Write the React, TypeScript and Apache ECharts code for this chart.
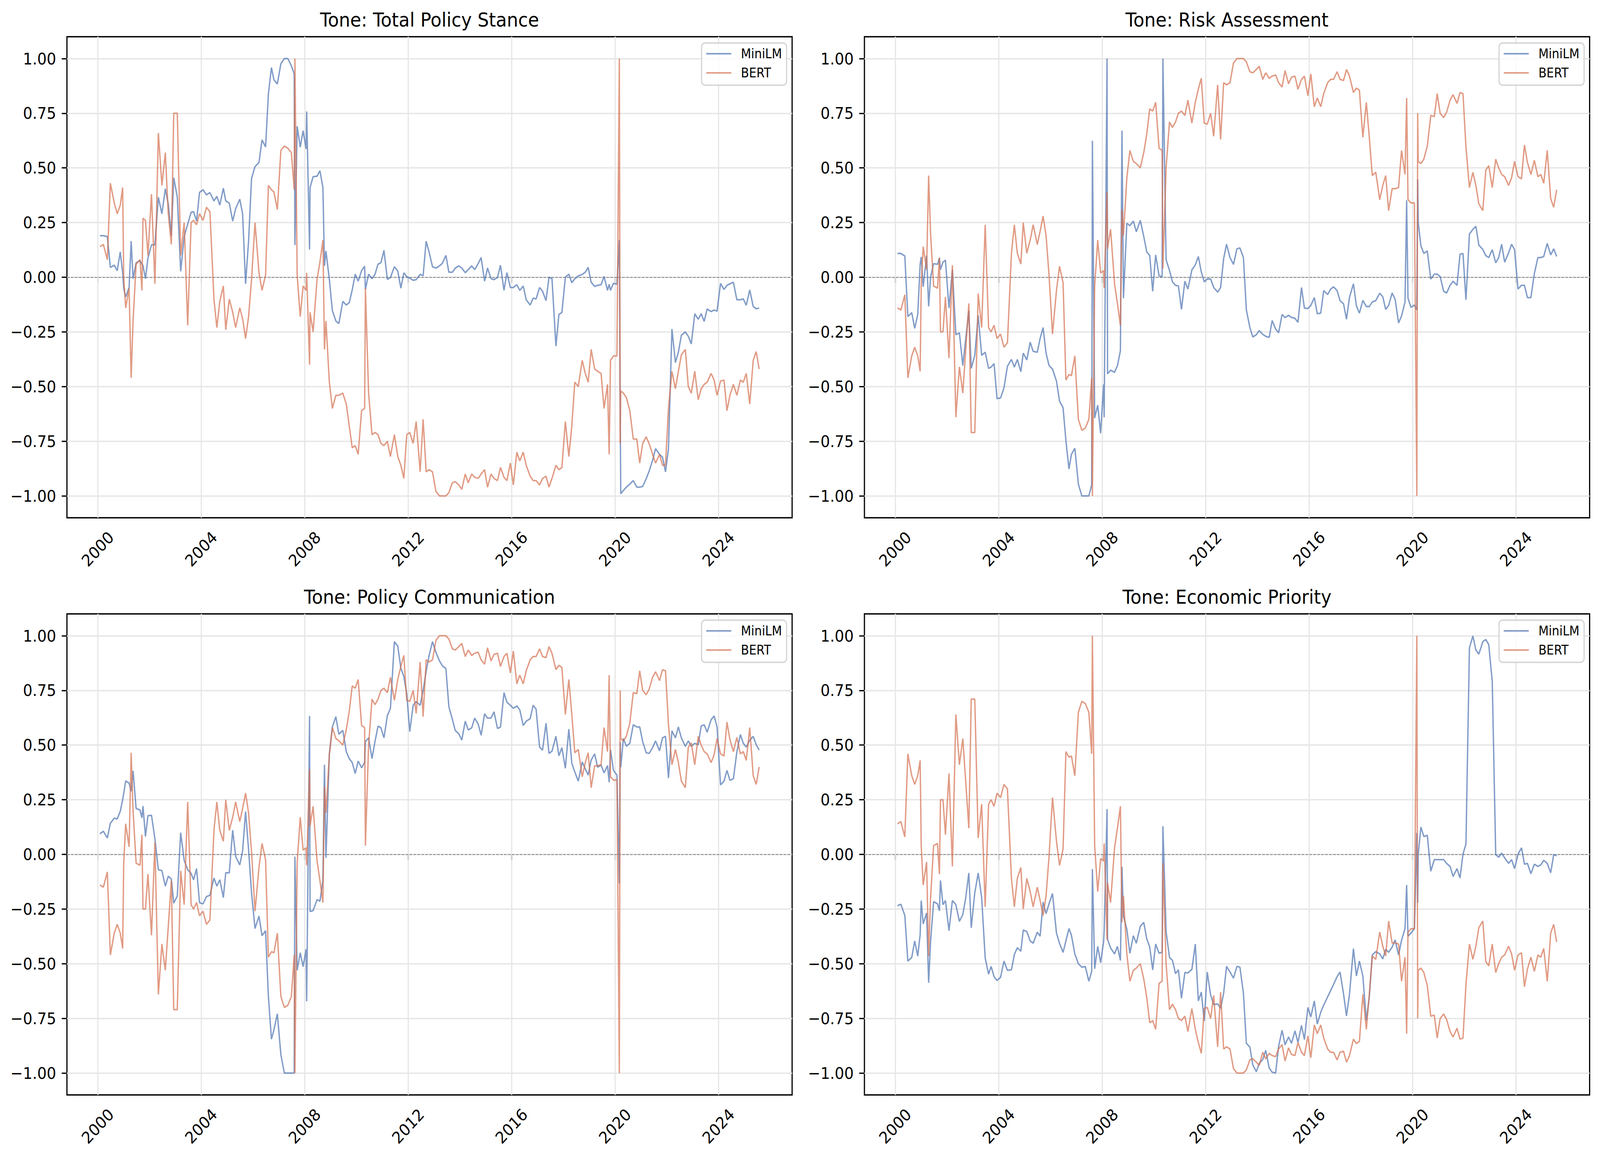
import React, { useEffect, useRef } from "react";
import * as echarts from "echarts";

// FOMC statement dates (x positions of every point)
const meetingDates = [
  "2000-02-02","2000-03-21","2000-05-16","2000-06-28","2000-08-22","2000-10-03","2000-11-15","2000-12-19",
  "2001-01-03","2001-01-31","2001-03-20","2001-04-18","2001-05-15","2001-06-27","2001-08-21","2001-09-17","2001-10-02","2001-11-06","2001-12-11",
  "2002-01-30","2002-03-19","2002-05-07","2002-06-26","2002-08-13","2002-09-24","2002-11-06","2002-12-10",
  "2003-01-29","2003-03-18","2003-05-06","2003-06-25","2003-08-12","2003-09-16","2003-10-28","2003-12-09",
  "2004-01-28","2004-03-16","2004-05-04","2004-06-30","2004-08-10","2004-09-21","2004-11-10","2004-12-14",
  "2005-02-02","2005-03-22","2005-05-03","2005-06-30","2005-08-09","2005-09-20","2005-11-01","2005-12-13",
  "2006-01-31","2006-03-28","2006-05-10","2006-06-29","2006-08-08","2006-09-20","2006-10-25","2006-12-12",
  "2007-01-31","2007-03-21","2007-05-09","2007-06-28","2007-08-07","2007-08-17","2007-09-18","2007-10-31","2007-12-11",
  "2008-01-22","2008-01-30","2008-03-11","2008-03-18","2008-04-30","2008-06-25","2008-08-05","2008-09-16","2008-10-08","2008-10-29","2008-12-16",
  "2009-01-28","2009-03-18","2009-04-29","2009-06-24","2009-08-12","2009-09-23","2009-11-04","2009-12-16",
  "2010-01-27","2010-03-16","2010-04-28","2010-05-09","2010-06-23","2010-08-10","2010-09-21","2010-11-03","2010-12-14",
  "2011-01-26","2011-03-15","2011-04-27","2011-06-22","2011-08-09","2011-09-21","2011-11-02","2011-12-13",
  "2012-01-25","2012-03-13","2012-04-25","2012-06-20","2012-08-01","2012-09-13","2012-10-24","2012-12-12",
  "2013-01-30","2013-03-20","2013-05-01","2013-06-19","2013-07-31","2013-09-18","2013-10-30","2013-12-18",
  "2014-01-29","2014-03-19","2014-04-30","2014-06-18","2014-07-30","2014-09-17","2014-10-29","2014-12-17",
  "2015-01-28","2015-03-18","2015-04-29","2015-06-17","2015-07-29","2015-09-17","2015-10-28","2015-12-16",
  "2016-01-27","2016-03-16","2016-04-27","2016-06-15","2016-07-27","2016-09-21","2016-11-02","2016-12-14",
  "2017-02-01","2017-03-15","2017-05-03","2017-06-14","2017-07-26","2017-09-20","2017-11-01","2017-12-13",
  "2018-01-31","2018-03-21","2018-05-02","2018-06-13","2018-08-01","2018-09-26","2018-11-08","2018-12-19",
  "2019-01-30","2019-03-20","2019-05-01","2019-06-19","2019-07-31","2019-09-18","2019-10-11","2019-10-30","2019-12-11",
  "2020-01-29","2020-03-03","2020-03-15","2020-03-23","2020-04-29","2020-06-10","2020-07-29","2020-09-16","2020-11-05","2020-12-16",
  "2021-01-27","2021-03-17","2021-04-28","2021-06-16","2021-07-28","2021-09-22","2021-11-03","2021-12-15",
  "2022-01-26","2022-03-16","2022-05-04","2022-06-15","2022-07-27","2022-09-21","2022-11-02","2022-12-14",
  "2023-02-01","2023-03-22","2023-05-03","2023-06-14","2023-07-26","2023-09-20","2023-11-01","2023-12-13",
  "2024-01-31","2024-03-20","2024-05-01","2024-06-12","2024-07-31","2024-09-18","2024-11-07","2024-12-18",
  "2025-01-29","2025-03-19","2025-05-07","2025-06-18","2025-07-30",
];

const totalMiniLM = [
  0.19, 0.19, 0.186, 0.045, 0.055, 0.03, 0.116, 0.02,
  -0.05, -0.09, -0.047, 0.165, -0.007, 0.066, 0.076, 0.06, 0.054, -0.007, 0.088,
  0.148, 0.148, 0.366, 0.29, 0.405, 0.335, 0.19, 0.455,
  0.367, 0.027, 0.186, 0.243, 0.297, 0.3, 0.257, 0.388,
  0.4, 0.377, 0.387, 0.349, 0.37, 0.33, 0.407, 0.349,
  0.339, 0.257, 0.314, 0.357, 0.29, -0.03, 0.165, 0.452,
  0.506, 0.525, 0.628, 0.596, 0.839, 0.959, 0.903, 0.884,
  0.977, 1.0, 1.0, 0.967, 0.93, 0.147, 0.69, 0.595, 0.67,
  0.587, 0.758, 0.127, 0.41, 0.46, 0.462, 0.487, 0.41, 0.052, 0.12, -0.01,
  -0.153, -0.2, -0.212, -0.11, -0.127, -0.116, -0.058, 0.014,
  -0.018, 0.03, 0.05, -0.056, 0.014, -0.007, 0.013, 0.06, 0.066,
  0.123, -0.01, -0.001, 0.048, 0.028, -0.05, 0.02, 0.003,
  -0.004, -0.014, -0.011, 0.013, 0.007, 0.165, 0.116, 0.048,
  0.042, 0.052, 0.064, 0.1, 0.023, 0.023, 0.042, 0.052,
  0.042, 0.021, 0.035, 0.052, 0.035, 0.062, 0.09, -0.018,
  0.042, -0.006, -0.011, -0.001, 0.055, -0.06, 0.021, -0.047,
  -0.047, -0.034, -0.06, -0.04, -0.103, -0.127, -0.096, -0.099,
  -0.047, -0.064, -0.107, 0.0, -0.006, -0.315, -0.17, -0.161,
  0.0, 0.014, -0.025, -0.007, 0.006, 0.013, 0.023, 0.045,
  -0.023, -0.042, -0.037, -0.034, 0.003, -0.06, -0.032, -0.06, -0.028,
  -0.032, 0.17, -0.62, -0.99, -0.975, -0.96, -0.946, -0.93, -0.96, -0.96,
  -0.957, -0.922, -0.887, -0.837, -0.784, -0.81, -0.823, -0.89,
  -0.784, -0.237, -0.39, -0.343, -0.265, -0.25, -0.27, -0.305,
  -0.167, -0.192, -0.167, -0.202, -0.145, -0.157, -0.15, -0.155,
  -0.028, -0.056, -0.037, -0.03, -0.023, -0.103, -0.103, -0.099,
  -0.128, -0.058, -0.134, -0.144, -0.141,
];

const totalBERT = [
  0.14, 0.15, 0.08, 0.43, 0.34, 0.29, 0.33, 0.41,
  0.0, -0.14, -0.05, -0.46, -0.2, 0.06, 0.08, -0.06, 0.27, 0.26, 0.1,
  0.38, -0.03, 0.66, 0.42, 0.57, 0.29, 0.15, 0.75,
  0.75, 0.1, 0.25, -0.22, 0.25, 0.26, 0.24, 0.29,
  0.26, 0.32, 0.3, -0.1, -0.23, -0.11, -0.04, -0.24,
  -0.1, -0.16, -0.23, -0.14, -0.19, -0.28, -0.18, -0.01,
  0.25, 0.02, -0.06, 0.01, 0.42, 0.4, 0.39, 0.31,
  0.58, 0.6, 0.59, 0.57, 0.4, 1.0, 0.01, -0.18, -0.04,
  -0.06, 0.02, -0.4, -0.16, -0.25, -0.01, 0.07, 0.17, -0.33, -0.2, -0.48,
  -0.6, -0.54, -0.54, -0.53, -0.58, -0.68, -0.78, -0.77,
  -0.81, -0.61, -0.6, -0.05, -0.53, -0.72, -0.71, -0.72, -0.76,
  -0.77, -0.75, -0.82, -0.72, -0.82, -0.86, -0.92, -0.72,
  -0.71, -0.76, -0.66, -0.89, -0.65, -0.89, -0.88, -0.89,
  -0.98, -1.0, -1.0, -1.0, -0.985, -0.94, -0.935, -0.95,
  -0.97, -0.9, -0.94, -0.9, -0.915, -0.92, -0.9, -0.88,
  -0.96, -0.9, -0.92, -0.93, -0.87, -0.915, -0.93, -0.85,
  -0.95, -0.8, -0.84, -0.8, -0.86, -0.91, -0.93, -0.93,
  -0.95, -0.92, -0.91, -0.96, -0.92, -0.86, -0.88, -0.87,
  -0.66, -0.82, -0.68, -0.48, -0.5, -0.38, -0.44, -0.48,
  -0.33, -0.42, -0.43, -0.44, -0.6, -0.49, -0.81, -0.38, -0.36,
  -0.36, 1.0, -0.76, -0.52, -0.53, -0.55, -0.61, -0.74, -0.74, -0.85,
  -0.76, -0.73, -0.76, -0.81, -0.85, -0.81, -0.86, -0.86,
  -0.6, -0.43, -0.51, -0.43, -0.355, -0.33, -0.5, -0.53,
  -0.43, -0.56, -0.51, -0.49, -0.48, -0.44, -0.47, -0.54,
  -0.475, -0.47, -0.61, -0.54, -0.49, -0.54, -0.47, -0.48,
  -0.44, -0.58, -0.38, -0.34, -0.42,
];

const riskMiniLM = [
  0.109, 0.109, 0.097, -0.18, -0.162, -0.234, -0.17, 0.06,
  0.093, -0.044, 0.099, -0.133, 0.0, 0.062, 0.059, 0.088, 0.035, 0.069, 0.078,
  -0.141, 0.035, -0.263, -0.254, -0.404, -0.28, -0.153, -0.417,
  -0.357, -0.174, -0.357, -0.343, -0.417, -0.411, -0.395, -0.555,
  -0.552, -0.506, -0.407, -0.376, -0.411, -0.376, -0.432, -0.347,
  -0.378, -0.297, -0.339, -0.343, -0.28, -0.23, -0.347, -0.404,
  -0.42, -0.475, -0.566, -0.597, -0.746, -0.877, -0.81, -0.782,
  -0.946, -1.0, -1.0, -1.0, -0.95, 0.624, -0.644, -0.585, -0.713,
  -0.49, -0.64, 1.0, -0.442, -0.425, -0.435, -0.404, -0.336, 0.67, -0.096, 0.247,
  0.236, 0.257, 0.208, 0.26, 0.186, 0.116, 0.099, -0.064,
  0.102, 0.006, 0.003, 1.0, 0.08, 0.031, -0.021, -0.037, -0.04,
  -0.147, -0.018, -0.054, 0.034, 0.056, 0.095, 0.024, -0.021,
  -0.008, -0.008, -0.047, -0.068, -0.047, 0.085, 0.151, 0.09,
  0.059, 0.13, 0.134, 0.09, -0.15, -0.23, -0.273, -0.263,
  -0.244, -0.261, -0.27, -0.275, -0.198, -0.237, -0.254, -0.17,
  -0.185, -0.174, -0.184, -0.188, -0.206, -0.047, -0.141, -0.143,
  -0.129, -0.093, -0.167, -0.164, -0.061, -0.079, -0.054, -0.044,
  -0.061, -0.107, -0.121, -0.192, -0.092, -0.03, -0.131, -0.164,
  -0.106, -0.134, -0.134, -0.113, -0.107, -0.073, -0.089, -0.147,
  -0.129, -0.072, -0.1, -0.209, -0.177, -0.113, 0.352, -0.096, -0.138,
  -0.127, -0.15, 0.448, 0.25, 0.144, 0.109, 0.12, -0.008, 0.014, 0.014,
  0.003, -0.064, -0.072, -0.037, -0.018, -0.037, 0.105, 0.109,
  -0.103, 0.198, 0.219, 0.233, 0.147, 0.127, 0.099, 0.09,
  0.126, 0.066, 0.09, 0.151, 0.069, 0.112, 0.151, 0.126,
  -0.054, -0.037, -0.037, -0.093, -0.093, 0.017, 0.09, 0.09,
  0.095, 0.155, 0.102, 0.13, 0.095,
];

// BERT scores for Risk Assessment and Policy Communication (identical in the source)
const riskCommBERT = [
  -0.14, -0.15, -0.08, -0.46, -0.36, -0.32, -0.36, -0.43,
  -0.04, 0.14, 0.035, 0.465, 0.2, -0.04, -0.05, 0.09, -0.25, -0.25, -0.09,
  -0.37, 0.055, -0.64, -0.41, -0.53, -0.33, -0.12, -0.71,
  -0.71, -0.075, -0.23, 0.24, -0.23, -0.25, -0.22, -0.28,
  -0.26, -0.32, -0.3, 0.11, 0.24, 0.11, 0.06, 0.25,
  0.11, 0.17, 0.24, 0.15, 0.21, 0.28, 0.19, 0.01,
  -0.26, -0.06, 0.05, -0.025, -0.47, -0.445, -0.45, -0.36,
  -0.65, -0.7, -0.69, -0.65, -0.46, -1.0, -0.04, 0.17, 0.02,
  0.03, -0.05, 0.39, 0.13, 0.22, -0.03, -0.12, -0.22, 0.31, 0.19, 0.455,
  0.58, 0.53, 0.52, 0.5, 0.57, 0.655, 0.77, 0.76,
  0.8, 0.59, 0.58, 0.04, 0.5, 0.71, 0.685, 0.71, 0.75,
  0.76, 0.74, 0.81, 0.705, 0.8, 0.86, 0.91, 0.705,
  0.7, 0.75, 0.645, 0.88, 0.63, 0.89, 0.88, 0.89,
  0.98, 1.0, 1.0, 1.0, 0.985, 0.94, 0.935, 0.95,
  0.965, 0.905, 0.935, 0.91, 0.92, 0.925, 0.89, 0.87,
  0.945, 0.885, 0.915, 0.92, 0.86, 0.905, 0.92, 0.83,
  0.93, 0.78, 0.82, 0.78, 0.84, 0.89, 0.905, 0.905,
  0.94, 0.905, 0.9, 0.95, 0.92, 0.845, 0.865, 0.855,
  0.64, 0.8, 0.64, 0.465, 0.48, 0.355, 0.42, 0.465,
  0.305, 0.405, 0.405, 0.41, 0.58, 0.47, 0.82, 0.355, 0.34,
  0.34, -1.0, 0.75, 0.53, 0.52, 0.54, 0.6, 0.74, 0.735, 0.84,
  0.75, 0.73, 0.755, 0.81, 0.835, 0.795, 0.845, 0.84,
  0.595, 0.41, 0.48, 0.42, 0.335, 0.305, 0.49, 0.51,
  0.41, 0.54, 0.5, 0.47, 0.46, 0.42, 0.455, 0.53,
  0.46, 0.45, 0.605, 0.525, 0.47, 0.535, 0.46, 0.47,
  0.43, 0.58, 0.36, 0.32, 0.4,
];

const commMiniLM = [
  0.094, 0.106, 0.075, 0.142, 0.166, 0.162, 0.197, 0.25,
  0.278, 0.336, 0.326, 0.288, 0.382, 0.21, 0.203, 0.167, 0.221, 0.082, 0.177,
  0.179, 0.072, -0.07, -0.074, -0.145, -0.1, -0.112, -0.223,
  -0.19, 0.099, -0.027, -0.07, -0.087, -0.116, -0.065, -0.221,
  -0.226, -0.193, -0.187, -0.108, -0.145, -0.116, -0.197, -0.084,
  -0.084, 0.111, -0.009, -0.048, 0.016, 0.196, 0.023, -0.176,
  -0.339, -0.282, -0.372, -0.349, -0.651, -0.845, -0.803, -0.729,
  -0.916, -1.0, -1.0, -1.0, -1.0, -0.01, -0.53, -0.45, -0.513,
  -0.434, -0.672, 0.633, -0.261, -0.257, -0.207, -0.214, -0.119, 0.41, -0.016, 0.46,
  0.583, 0.63, 0.55, 0.567, 0.47, 0.438, 0.42, 0.37,
  0.427, 0.396, 0.42, 0.516, 0.533, 0.438, 0.516, 0.587, 0.579,
  0.533, 0.635, 0.668, 0.973, 0.952, 0.852, 0.814, 0.735,
  0.562, 0.682, 0.699, 0.682, 0.749, 0.837, 0.909, 0.973,
  0.923, 0.885, 0.862, 0.85, 0.675, 0.618, 0.566, 0.552,
  0.523, 0.609, 0.569, 0.579, 0.623, 0.597, 0.545, 0.643,
  0.623, 0.624, 0.652, 0.576, 0.582, 0.74, 0.696, 0.682,
  0.668, 0.679, 0.661, 0.59, 0.609, 0.621, 0.682, 0.664,
  0.491, 0.477, 0.6, 0.462, 0.472, 0.54, 0.451, 0.488,
  0.394, 0.573, 0.417, 0.377, 0.335, 0.423, 0.391, 0.363,
  0.431, 0.46, 0.399, 0.409, 0.373, 0.406, 0.33, 0.479, 0.384,
  0.363, -0.133, 0.512, 0.399, 0.53, 0.495, 0.508, 0.593, 0.583, 0.583,
  0.516, 0.465, 0.462, 0.488, 0.519, 0.474, 0.533, 0.54,
  0.349, 0.565, 0.533, 0.583, 0.533, 0.494, 0.519, 0.495,
  0.508, 0.502, 0.587, 0.593, 0.559, 0.616, 0.633, 0.583,
  0.318, 0.335, 0.384, 0.339, 0.346, 0.469, 0.548, 0.508,
  0.491, 0.522, 0.54, 0.502, 0.477,
];

const econMiniLM = [
  -0.235, -0.228, -0.279, -0.488, -0.471, -0.396, -0.465, -0.367,
  -0.211, -0.318, -0.268, -0.587, -0.4, -0.216, -0.226, -0.258, -0.119, -0.23, -0.211,
  -0.349, -0.211, -0.23, -0.306, -0.275, -0.197, -0.085, -0.336,
  -0.176, -0.085, -0.197, -0.474, -0.548, -0.512, -0.559, -0.577,
  -0.562, -0.488, -0.53, -0.528, -0.458, -0.427, -0.443, -0.346,
  -0.353, -0.396, -0.406, -0.356, -0.374, -0.218, -0.271, -0.226,
  -0.179, -0.36, -0.407, -0.448, -0.396, -0.339, -0.37, -0.455,
  -0.5, -0.516, -0.513, -0.58, -0.535, -0.067, -0.523, -0.421, -0.495,
  -0.4, -0.35, 0.207, -0.389, -0.428, -0.455, -0.421, -0.485, -0.057, -0.282, -0.342,
  -0.452, -0.372, -0.406, -0.329, -0.311, -0.386, -0.424, -0.528,
  -0.41, -0.452, -0.448, 0.129, -0.353, -0.471, -0.485, -0.545, -0.528,
  -0.658, -0.54, -0.542, -0.526, -0.41, -0.67, -0.63, -0.762,
  -0.538, -0.644, -0.687, -0.684, -0.704, -0.635, -0.512, -0.538,
  -0.566, -0.512, -0.516, -0.633, -0.864, -0.881, -0.963, -0.994,
  -0.956, -0.938, -0.896, -0.977, -0.996, -1.0, -0.878, -0.804,
  -0.871, -0.835, -0.864, -0.807, -0.86, -0.782, -0.847, -0.7,
  -0.743, -0.67, -0.776, -0.722, -0.689, -0.651, -0.623, -0.594,
  -0.559, -0.538, -0.637, -0.739, -0.64, -0.431, -0.556, -0.488,
  -0.556, -0.76, -0.651, -0.46, -0.445, -0.455, -0.478, -0.434,
  -0.448, -0.424, -0.391, -0.46, -0.393, -0.339, -0.14, -0.374, -0.36,
  -0.339, 0.098, -0.221, 0.0, 0.125, 0.082, 0.087, -0.077, -0.024, -0.024,
  -0.024, -0.024, -0.041, -0.055, -0.101, -0.065, -0.108, 0.001,
  0.048, 0.945, 0.999, 0.935, 0.916, 0.973, 0.983, 0.959,
  0.791, -0.001, -0.013, 0.006, -0.016, -0.041, -0.024, -0.065,
  0.001, 0.03, -0.045, -0.041, -0.088, -0.045, -0.055, -0.048,
  -0.027, -0.041, -0.084, -0.001, -0.006,
];

const econBERT = [
  0.14, 0.15, 0.08, 0.46, 0.36, 0.32, 0.36, 0.43,
  0.04, -0.14, -0.035, -0.465, -0.2, 0.04, 0.05, -0.09, 0.25, 0.25, 0.09,
  0.37, -0.055, 0.64, 0.41, 0.53, 0.33, 0.12, 0.71,
  0.71, 0.075, 0.23, -0.24, 0.23, 0.25, 0.22, 0.28,
  0.26, 0.32, 0.3, -0.11, -0.24, -0.11, -0.06, -0.25,
  -0.11, -0.17, -0.24, -0.15, -0.21, -0.28, -0.19, -0.01,
  0.26, 0.06, -0.05, 0.025, 0.47, 0.445, 0.45, 0.36,
  0.65, 0.7, 0.69, 0.65, 0.46, 1.0, 0.04, -0.17, -0.02,
  -0.03, 0.05, -0.39, -0.13, -0.22, 0.03, 0.12, 0.22, -0.31, -0.19, -0.455,
  -0.58, -0.53, -0.52, -0.5, -0.57, -0.655, -0.77, -0.76,
  -0.8, -0.59, -0.58, -0.04, -0.5, -0.71, -0.685, -0.71, -0.75,
  -0.76, -0.74, -0.81, -0.705, -0.8, -0.86, -0.91, -0.705,
  -0.7, -0.75, -0.645, -0.88, -0.63, -0.89, -0.88, -0.89,
  -0.98, -1.0, -1.0, -1.0, -0.985, -0.94, -0.935, -0.95,
  -0.965, -0.905, -0.935, -0.91, -0.92, -0.925, -0.89, -0.87,
  -0.945, -0.885, -0.915, -0.92, -0.86, -0.905, -0.92, -0.83,
  -0.93, -0.78, -0.82, -0.78, -0.84, -0.89, -0.905, -0.905,
  -0.94, -0.905, -0.9, -0.95, -0.92, -0.845, -0.865, -0.855,
  -0.64, -0.8, -0.64, -0.465, -0.48, -0.355, -0.42, -0.465,
  -0.305, -0.405, -0.405, -0.41, -0.58, -0.47, -0.82, -0.355, -0.34,
  -0.34, 1.0, -0.75, -0.53, -0.52, -0.54, -0.6, -0.74, -0.735, -0.84,
  -0.75, -0.73, -0.755, -0.81, -0.835, -0.795, -0.845, -0.84,
  -0.595, -0.41, -0.48, -0.42, -0.335, -0.305, -0.49, -0.51,
  -0.41, -0.54, -0.5, -0.47, -0.46, -0.42, -0.455, -0.53,
  -0.46, -0.45, -0.605, -0.525, -0.47, -0.535, -0.46, -0.47,
  -0.43, -0.58, -0.36, -0.32, -0.4,
];

const panelTitles = [
  "Tone: Total Policy Stance",
  "Tone: Risk Assessment",
  "Tone: Policy Communication",
  "Tone: Economic Priority",
];
const seriesNames = ["MiniLM", "BERT"];
const xTickYears = [2000, 2004, 2008, 2012, 2016, 2020, 2024];
const yTickValues = [-1, -0.75, -0.5, -0.25, 0, 0.25, 0.5, 0.75, 1];

const W = 4470;
const H = 2966;
const FONT = "'DejaVu Sans', Verdana, sans-serif";
const BLUE = "rgba(76,114,176,0.7)";
const ORANGE = "rgba(212,112,80,0.7)";
const GRID_W = 2026;
const GRID_H = 1231;
const PANEL_POS = [
  { left: 187, top: 94 },
  { left: 2415, top: 94 },
  { left: 187, top: 1571 },
  { left: 2415, top: 1571 },
];

function toYearFraction(s: string): number {
  const [y, m, d] = s.split("-").map(Number);
  const t = Date.UTC(y, m - 1, d);
  const a = Date.UTC(y, 0, 1);
  const b = Date.UTC(y + 1, 0, 1);
  return y + (t - a) / (b - a);
}

function fmtY(v: number): string {
  const s = Math.abs(v).toFixed(2);
  return v < -1e-9 ? "\u2212" + s : s;
}

// The design is laid out on a 4470x2966 canvas; stretch it to fill the viewport.
function viewportScale(): { sx: number; sy: number; vw: number; vh: number } {
  if (typeof window === "undefined") return { sx: 1, sy: 1, vw: W, vh: H };
  const vw = window.innerWidth || document.documentElement.clientWidth || W;
  const vh = window.innerHeight || document.documentElement.clientHeight || H;
  const sx = vw > 0 ? Math.min(vw / W, 1) : 1;
  const sy = vh > 0 ? Math.min(vh / H, 1) : 1;
  return { sx, sy, vw: W * sx, vh: H * sy };
}

export default function App() {
  const ref = useRef<HTMLDivElement | null>(null);
  const { sx, sy, vw, vh } = viewportScale();

  useEffect(() => {
    document.body.style.margin = "0";
    document.body.style.overflow = "hidden";
    if (!ref.current) return;
    const chart = echarts.init(ref.current, undefined, { renderer: "svg", width: W, height: H });

    const xs = meetingDates.map(toYearFraction);
    const panelData = [
      [totalMiniLM, totalBERT],
      [riskMiniLM, riskCommBERT],
      [commMiniLM, riskCommBERT],
      [econMiniLM, econBERT],
    ];

    const tickLine = { color: "#000", width: 3.3 };
    const grids: any[] = [];
    const xAxes: any[] = [];
    const yAxes: any[] = [];
    const series: any[] = [];
    const legends: any[] = [];
    const graphics: any[] = [];

    PANEL_POS.forEach((p, i) => {
      grids.push({
        left: p.left,
        top: p.top,
        width: GRID_W,
        height: GRID_H,
        show: true,
        borderColor: "#000",
        borderWidth: 3.3,
        backgroundColor: "rgba(0,0,0,0)",
        containLabel: false,
      });
      xAxes.push({
        type: "value",
        gridIndex: i,
        min: 1998.81,
        max: 2026.85,
        axisLine: { show: false },
        axisTick: { show: true, length: 14.6, lineStyle: tickLine, customValues: xTickYears },
        axisLabel: {
          customValues: xTickYears,
          rotate: 45,
          align: "center",
          verticalAlign: "middle",
          margin: 80,
          fontSize: 41.7,
          color: "#000",
          fontFamily: FONT,
          formatter: (v: number) => String(Math.round(v)),
        },
        splitLine: { show: false },
      });
      yAxes.push({
        type: "value",
        gridIndex: i,
        min: -1.1,
        max: 1.1,
        axisLine: { show: false },
        axisTick: { show: true, length: 14.6, lineStyle: tickLine, customValues: yTickValues },
        axisLabel: {
          customValues: yTickValues,
          margin: 30,
          fontSize: 41.7,
          color: "#000",
          fontFamily: FONT,
          formatter: (v: number) => fmtY(v),
        },
        splitLine: { show: false },
      });

      const [mini, bert] = panelData[i];
      const gridLines = [
        ...xTickYears.map((yr) => ({ xAxis: yr })),
        ...yTickValues.map((v) => ({ yAxis: v })),
        {
          yAxis: 0,
          lineStyle: { color: "rgba(110,110,110,0.8)", width: 2.2, type: [7.7, 3.3] },
        },
      ];
      series.push({
        type: "line",
        name: seriesNames[0],
        xAxisIndex: i,
        yAxisIndex: i,
        data: xs.map((x, k) => [x, mini[k]]),
        showSymbol: false,
        symbol: "none",
        silent: true,
        z: 3,
        lineStyle: { color: BLUE, width: 3.8 },
        itemStyle: { color: BLUE },
        markLine: {
          silent: true,
          symbol: ["none", "none"],
          z: 1,
          label: { show: false },
          emphasis: { disabled: true },
          lineStyle: { color: "#e6e6e6", width: 3.3, type: "solid" },
          data: gridLines,
        },
      });
      series.push({
        type: "line",
        name: seriesNames[1],
        xAxisIndex: i,
        yAxisIndex: i,
        data: xs.map((x, k) => [x, bert[k]]),
        showSymbol: false,
        symbol: "none",
        silent: true,
        z: 4,
        lineStyle: { color: ORANGE, width: 3.8 },
        itemStyle: { color: ORANGE },
      });

      legends.push({
        data: seriesNames,
        orient: "vertical",
        left: p.left + GRID_W - 15 - 238,
        top: p.top + 16,
        padding: [11, 13, 15, 13],
        itemGap: 16,
        itemWidth: 70,
        itemHeight: 3.8,
        icon: "rect",
        selectedMode: false,
        backgroundColor: "rgba(255,255,255,0.8)",
        borderColor: "#d4d4d4",
        borderWidth: 3.3,
        borderRadius: 10,
        textStyle: {
          fontSize: 33,
          color: "#000",
          fontFamily: FONT,
          padding: [0, 0, 0, 22],
        },
      });

      graphics.push({
        type: "text",
        x: p.left + GRID_W / 2,
        y: p.top - 44,
        silent: true,
        style: {
          text: panelTitles[i],
          fontSize: 50,
          fontFamily: FONT,
          fill: "#000",
          align: "center",
          verticalAlign: "middle",
        },
      });
    });

    chart.setOption({
      animation: false,
      backgroundColor: "#ffffff",
      grid: grids,
      xAxis: xAxes,
      yAxis: yAxes,
      legend: legends,
      series,
      graphic: graphics,
    });

    return () => {
      chart.dispose();
    };
  }, []);

  return (
    <div style={{ width: vw, height: vh, overflow: "hidden", background: "#fff" }}>
      <div
        style={{
          width: W,
          height: H,
          transform: `scale(${sx}, ${sy})`,
          transformOrigin: "0 0",
        }}
      >
        <div ref={ref} style={{ width: W, height: H }} />
      </div>
    </div>
  );
}
